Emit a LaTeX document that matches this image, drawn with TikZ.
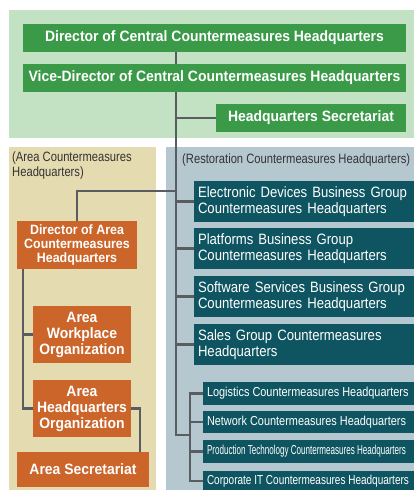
\documentclass[tikz,border=0pt]{standalone}
\usepackage{fontspec}
\setmainfont{Liberation Sans}
\newfontfamily\fbig{Liberation Sans}[FakeStretch=0.93]
\newfontfamily\fteal{Liberation Sans}[FakeStretch=0.875]
\newfontfamily\fdir{Liberation Sans}[FakeStretch=0.92]
\newfontfamily\flab{Liberation Sans}[FakeStretch=0.83]
\newfontfamily\fsmA{Liberation Sans}[FakeStretch=0.84]
\newfontfamily\fsmC{Liberation Sans}[FakeStretch=0.77]
\newfontfamily\fsmP{Liberation Sans}[FakeStretch=0.62]
\definecolor{bggreen}{HTML}{C3E2C3}
\definecolor{boxgreen}{HTML}{3A9A48}
\definecolor{bgtan}{HTML}{E5DBB0}
\definecolor{bgblue}{HTML}{B5C8CF}
\definecolor{boxteal}{HTML}{0F5561}
\definecolor{boxorange}{HTML}{CB652A}
\definecolor{linegrey}{HTML}{595D61}
\definecolor{labgrey}{HTML}{333333}
\newcommand{\lbox}[1]{\makebox[203pt][l]{#1}}
\begin{document}
\begin{tikzpicture}[x=1pt,y=-1pt,
  gbox/.style={fill=boxgreen,text=white,inner sep=0pt,align=center,
    font=\fbig\fontsize{15}{16}\selectfont\bfseries,minimum height=28pt},
  obox/.style={fill=boxorange,text=white,inner sep=0pt,align=center,
    font=\fbig\fontsize{15}{16}\selectfont\bfseries},
  tbox/.style={fill=boxteal,text=white,inner xsep=4pt,inner ysep=0pt,align=left,
    text width=212pt,minimum height=41pt,font=\fteal\fontsize{15}{16}\selectfont},
  sbox/.style={fill=boxteal,text=white,inner xsep=4pt,inner ysep=0pt,
    minimum width=211pt,minimum height=23pt},
  lab/.style={text=labgrey,inner sep=0pt,align=left,font=\flab\fontsize{13.5}{15}\selectfont},
  conn/.style={draw=linegrey,line width=2.5pt,line cap=butt}
]
\useasboundingbox (0,0) rectangle (414,490);
\fill[bggreen] (9,10) rectangle (414,138);
\fill[bgtan] (9,147) rectangle (156,490);
\fill[bgblue] (166,147) rectangle (414,490);

% central
\node[gbox,minimum width=383pt] (dir) at (214.5,38) {Director of Central Countermeasures Headquarters};
\node[gbox,minimum width=383pt] (vice) at (214.5,78) {Vice-Director of Central Countermeasures Headquarters};
\node[gbox,minimum width=190pt] (sec) at (311,118) {Headquarters Secretariat};

% labels
\node[lab,anchor=north west] (alab) at (12,152) {(Area Countermeasures\\Headquarters)};
\node[lab,anchor=west] (rlab) at (182,160.5) {(Restoration Countermeasures Headquarters)};

% area
\node[obox,minimum width=120pt,minimum height=48pt,font=\fdir\fontsize{13.5}{14}\selectfont\bfseries] (adir) at (77,245) {Director of Area\\Countermeasures\\Headquarters};
\node[obox,minimum width=98pt,minimum height=57pt] (wp) at (82,334.5) {Area\\Workplace\\Organization};
\node[obox,minimum width=98pt,minimum height=57pt] (hq) at (82,408.5) {Area\\Headquarters\\Organization};
\node[obox,minimum width=132pt,minimum height=35pt] (asec) at (83,469.5) {Area Secretariat};

% restoration
\node[tbox] (ed) at (304,201.5) {Electronic Devices Business Group\\Countermeasures Headquarters};
\node[tbox] (pf) at (304,248.5) {Platforms Business Group\\Countermeasures Headquarters};
\node[tbox] (ss) at (304,296.5) {Software Services Business Group\\Countermeasures Headquarters};
\node[tbox] (sg) at (304,344.5) {Sales Group Countermeasures\\Headquarters};

\node[sbox,font=\fsmA\fontsize{13}{14}\selectfont] (logi) at (308.5,393.5) {\lbox{Logistics Countermeasures Headquarters}};
\node[sbox,font=\fsmA\fontsize{13}{14}\selectfont,minimum height=22pt] (net) at (308.5,422) {\lbox{Network Countermeasures Headquarters}};
\node[sbox,font=\fsmP\fontsize{13}{14}\selectfont] (prod) at (308.5,451.5) {\lbox{Production Technology Countermeasures Headquarters}};
\node[sbox,font=\fsmC\fontsize{13}{14}\selectfont,minimum height=20pt] (corp) at (308.5,481) {\lbox{Corporate IT Countermeasures Headquarters}};

% connectors
\coordinate (tr) at (176,0);
\coordinate (turn) at (190,435);
\coordinate (t2) at (190,0);
\coordinate (ab) at (176,191);
\coordinate (lv) at (23,0);
\coordinate (rv) at (140,0);

\draw[conn] (dir.south -| tr) -- (vice.north -| tr);
\draw[conn] (vice.south -| tr) -- (tr |- turn) -- (turn);
\draw[conn] (sec.west) -- (sec.west -| tr);
\draw[conn] (ab) -| (adir.north);
\foreach \n in {ed,pf,ss,sg} \draw[conn] (\n.west) -- (\n.west -| tr);
\draw[conn] (logi.west) -- (logi.west -| t2) -- (corp.west -| t2) -- (corp.west);
\draw[conn] (net.west) -- (net.west -| t2);
\draw[conn] (prod.west) -- (prod.west -| t2);
\draw[conn] (adir.south -| lv) -- (lv |- hq.west) -- (hq.west);
\draw[conn] (wp.west) -- (wp.west -| lv);
\draw[conn] (hq.east) -- (hq.east -| rv) -- (rv |- asec.north);
\end{tikzpicture}
\end{document}
